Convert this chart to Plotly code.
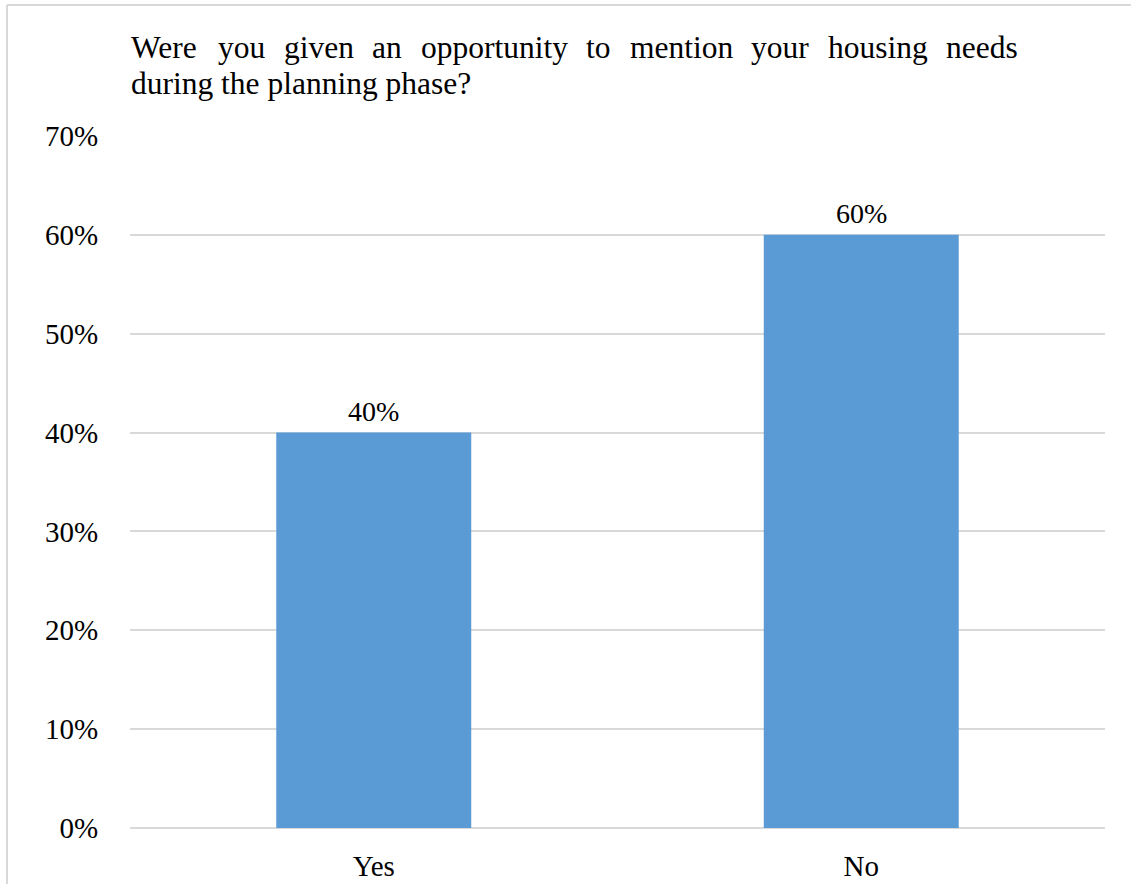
import plotly.graph_objects as go

# Survey responses
categories = ["Yes", "No"]
shares = [0.40, 0.60]
tick_values = [0, 0.1, 0.2, 0.3, 0.4, 0.5, 0.6, 0.7]
tick_labels = ["0%", "10%", "20%", "30%", "40%", "50%", "60%", "70%"]

title_line1 = ["Were", "you", "given", "an", "opportunity", "to", "mention", "your", "housing", "needs"]
title_line2 = "during the planning phase?"

FONT = "'Liberation Serif'"
TITLE_SIZE = 31.5
W, H = 1131, 884
L, R, T, B = 130, 26, 136, 56
PW, PH = W - L - R, H - T - B

# Times-compatible advance widths (per 1000 em) for laying out the justified line
ADV = {"W": 944, "e": 444, "r": 333, "y": 500, "o": 500, "u": 500, "g": 500,
       "i": 278, "v": 500, "n": 500, "a": 444, "p": 500, "t": 278, "m": 778,
       "h": 500, "s": 389, "d": 500}


def px_x(p):
    return (p - L) / PW


def px_y(p):
    return (H - B - p) / PH


def word_width(w, size):
    return sum(ADV[c] for c in w) * size / 1000.0


fig = go.Figure()
fig.add_trace(go.Bar(
    x=categories,
    y=shares,
    marker=dict(color="#5b9bd5", line=dict(width=0)),
    width=0.4,
    hoverinfo="skip",
))

annotations = []
# value labels above the bars
for c, v in zip(categories, shares):
    annotations.append(dict(
        x=c, y=v, xref="x", yref="y",
        text=f"{v * 100:.0f}%", showarrow=False,
        yanchor="bottom", yshift=4,
        font=dict(family=FONT, size=28, color="#000000"),
    ))

# first title line, justified between the left and right text edges
line_left, line_right = 130, 1017
widths = [word_width(w, TITLE_SIZE) for w in title_line1]
gap = (line_right - line_left - sum(widths)) / (len(title_line1) - 1)
xpos = line_left
for w, ww in zip(title_line1, widths):
    annotations.append(dict(
        x=px_x(xpos), y=px_y(48), xref="paper", yref="paper",
        text=w, showarrow=False, xanchor="left", yanchor="middle",
        xshift=-1,
        font=dict(family=FONT, size=TITLE_SIZE, color="#000000"),
    ))
    xpos += ww + gap
annotations.append(dict(
    x=px_x(line_left), y=px_y(84), xref="paper", yref="paper",
    text=title_line2, showarrow=False, xanchor="left", yanchor="middle",
    xshift=-1,
    font=dict(family=FONT, size=TITLE_SIZE, color="#000000"),
))

# chart frame (left and top edges)
shapes = [
    dict(type="line", xref="paper", yref="paper",
         x0=px_x(7), x1=px_x(7), y0=px_y(5), y1=px_y(H + 5),
         line=dict(color="#d9d9d9", width=2)),
    dict(type="line", xref="paper", yref="paper",
         x0=px_x(7), x1=px_x(W + 5), y0=px_y(5), y1=px_y(5),
         line=dict(color="#d9d9d9", width=2)),
]

fig.update_layout(
    width=W, height=H,
    margin=dict(l=L, r=R, t=T, b=B, pad=0, autoexpand=False),
    paper_bgcolor="#ffffff",
    plot_bgcolor="#ffffff",
    showlegend=False,
    bargap=0.6,
    annotations=annotations,
    shapes=shapes,
    font=dict(family=FONT, color="#000000"),
)
fig.update_xaxes(
    showgrid=False, zeroline=False, showline=False,
    ticks="outside", ticklen=12, tickcolor="rgba(0,0,0,0)",
    tickfont=dict(family=FONT, size=29, color="#000000"),
    automargin=False,
    fixedrange=True,
)
fig.update_yaxes(
    range=[0, 0.7],
    tickvals=tick_values, ticktext=tick_labels,
    showgrid=True, gridcolor="#d9d9d9", gridwidth=1.5,
    zeroline=True, zerolinecolor="#d9d9d9", zerolinewidth=1.5,
    showline=False,
    ticks="outside", ticklen=25, tickcolor="rgba(0,0,0,0)",
    tickfont=dict(family=FONT, size=29, color="#000000"),
    automargin=False,
    fixedrange=True,
)

fig.write_html("out.html", config={"displayModeBar": False})
